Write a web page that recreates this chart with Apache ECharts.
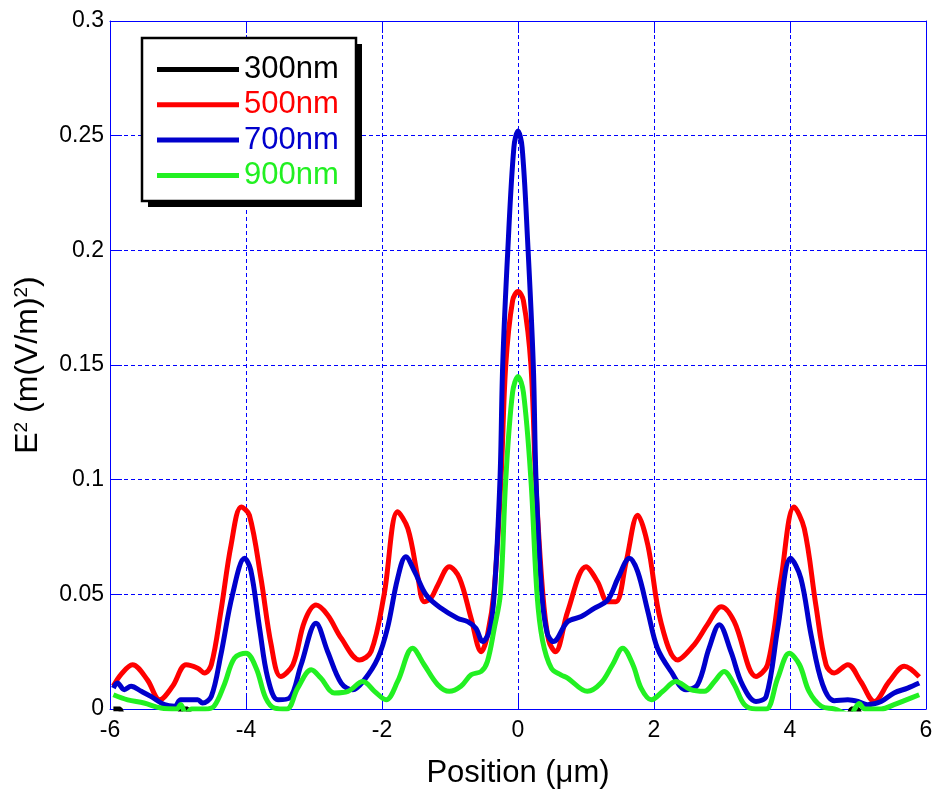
<!DOCTYPE html>
<html>
<head>
<meta charset="utf-8">
<title>E2 vs Position</title>
<script src="https://cdn.jsdelivr.net/npm/echarts@6/dist/echarts.min.js"></script>
<style>
  html, body { margin: 0; padding: 0; background: #fff; }
  #chart { width: 938px; height: 794px; }
</style>
</head>
<body>
<div id="chart"></div>
<script>
// wavelengths (legend)
const seriesNames = ['300nm', '500nm', '700nm', '900nm']
const seriesColors = ['#000000', '#ff0000', '#0000cc', '#22f022']

const xTicks = [-6, -4, -2, 0, 2, 4, 6]
const yTickLabels = ['0', '0.05', '0.1', '0.15', '0.2', '0.25', '0.3']

// 300nm - lies on / just under the axis, only shows in a few gaps
const x300 = [-5.95, -5.85, -5.8, -5.0, -4.95, -4.86, -4.8, 4.85, 4.9, 5.0, 5.05, 5.9]
const y300 = [0, 0, -0.004, -0.004, 0, 0, -0.004, -0.004, 0, 0, -0.004, -0.004]

// 500nm
const x500 = [-5.95, -5.84, -5.67, -5.45, -5.27, -5.08, -4.88, -4.71, -4.61, -4.51, -4.37, -4.22, -4.07, -3.95,
  -3.78, -3.63, -3.49, -3.31, -3.14, -2.97, -2.8, -2.6, -2.33, -2.16, -1.97, -1.77, -1.62, -1.47, -1.38, -1.28,
  -1.18, -1.01, -0.86, -0.69, -0.54, -0.45, -0.35, -0.25, -0.18, -0.08, 0, 0.08, 0.19, 0.26, 0.36, 0.45, 0.55,
  0.73, 1.0, 1.17, 1.32, 1.44, 1.59, 1.76, 1.91, 2.1, 2.35, 2.59, 2.79, 2.99, 3.18, 3.5, 3.67, 3.87, 4.06, 4.21,
  4.38, 4.53, 4.65, 4.85, 5.04, 5.24, 5.46, 5.68, 5.9]
const y500 = [0.010, 0.015, 0.0193, 0.0127, 0.004, 0.0099, 0.0193, 0.0178, 0.0157, 0.0193, 0.0425, 0.0714, 0.0881, 0.0845,
  0.057, 0.028, 0.0142, 0.0193, 0.0381, 0.0453, 0.041, 0.0309, 0.0214, 0.0251, 0.0497, 0.086, 0.0787, 0.057, 0.0468, 0.0483,
  0.054, 0.062, 0.057, 0.0396, 0.025, 0.032, 0.052, 0.1, 0.15, 0.178, 0.182, 0.178, 0.15, 0.1, 0.052, 0.03, 0.025,
  0.0425, 0.062, 0.0555, 0.0468, 0.0468, 0.0642, 0.0845, 0.0714, 0.0381, 0.0214, 0.028, 0.037, 0.0446, 0.0381, 0.0142, 0.0193, 0.057, 0.0881, 0.0787,
  0.0453, 0.0193, 0.0157, 0.0193, 0.012, 0.0033, 0.012, 0.0186, 0.014]

// 700nm
const x700 = [-5.95, -5.89, -5.79, -5.69, -5.54, -5.4, -5.2, -5.05, -4.96, -4.71, -4.64, -4.51, -4.37, -4.2, -4.02,
  -3.93, -3.8, -3.68, -3.53, -3.36, -3.19, -2.97, -2.8, -2.6, -2.43, -2.26, -2.06, -1.92, -1.77, -1.65, -1.52,
  -1.35, -1.13, -0.89, -0.74, -0.62, -0.52, -0.42, -0.35, -0.265, -0.225, -0.15, -0.06, 0, 0.06, 0.14, 0.225,
  0.265, 0.35, 0.43, 0.52, 0.73, 0.93, 1.12, 1.32, 1.47, 1.64, 1.76, 1.91, 2.05, 2.25, 2.47, 2.64, 2.81, 2.96,
  3.13, 3.3, 3.5, 3.65, 3.82, 4.01, 4.16, 4.31, 4.48, 4.65, 4.85, 5.0, 5.14, 5.34, 5.53, 5.73, 5.9]
const y700 = [0.0091, 0.0113, 0.0084, 0.0099, 0.0077, 0.0055, 0.0019, 0.0012, 0.004, 0.004, 0.0026, 0.0055, 0.0236, 0.0497, 0.0657,
  0.0606, 0.0352, 0.0135, 0.004, 0.0048, 0.0193, 0.0374, 0.0251, 0.0113, 0.0084, 0.0127, 0.0222, 0.0352, 0.057, 0.0664, 0.0599,
  0.0497, 0.0439, 0.0396, 0.0381, 0.0352, 0.0294, 0.034, 0.05, 0.1, 0.15, 0.2, 0.245, 0.252, 0.245, 0.205, 0.15,
  0.1, 0.05, 0.033, 0.0294, 0.0381, 0.0403, 0.0439, 0.0475, 0.057, 0.0657, 0.0599, 0.0425, 0.0265, 0.0164, 0.0084, 0.0106, 0.0265, 0.0367,
  0.0251, 0.0106, 0.0033, 0.0055, 0.0352, 0.0657, 0.057, 0.0323, 0.0106, 0.0036, 0.004, 0.0033, 0.0019, 0.0033, 0.007, 0.0091, 0.0113]

// 900nm
const x900 = [-5.95, -5.74, -5.5, -5.25, -5.02, -4.96, -4.88, -4.8, -4.6, -4.47, -4.32, -4.17, -4.0, -3.85, -3.71,
  -3.58, -3.4, -3.24, -3.04, -2.9, -2.7, -2.5, -2.28, -2.11, -1.94, -1.77, -1.55, -1.38, -1.18, -1.01, -0.84,
  -0.69, -0.54, -0.45, -0.35, -0.26, -0.18, -0.08, 0, 0.08, 0.19, 0.28, 0.36, 0.49, 0.63, 0.73, 1.02, 1.22,
  1.39, 1.54, 1.69, 1.81, 1.96, 2.13, 2.32, 2.54, 2.74, 2.89, 3.03, 3.18, 3.33, 3.5, 3.65, 3.82, 3.99, 4.14,
  4.28, 4.46, 4.65, 4.9, 4.95, 5.02, 5.1, 5.34, 5.53, 5.71, 5.9]
const y900 = [0.0062, 0.004, 0.0026, 0.0004, 0, 0.002, -0.0025, 0, 0, 0.0012, 0.0106, 0.0222, 0.0243, 0.0178, 0.0048,
  0.0004, 0, 0.0091, 0.0171, 0.0135, 0.007, 0.0077, 0.012, 0.0077, 0.004, 0.012, 0.0265, 0.0193, 0.0106, 0.0077, 0.0099,
  0.0149, 0.0164, 0.0207, 0.035, 0.05, 0.1, 0.138, 0.145, 0.138, 0.1, 0.05, 0.03, 0.0178, 0.0149, 0.0135, 0.0077, 0.0113,
  0.0193, 0.0265, 0.0193, 0.0091, 0.004, 0.0077, 0.012, 0.0084, 0.0077, 0.012, 0.0164, 0.0106, 0.0019, 0, 0, 0.0135, 0.0243, 0.0193,
  0.0077, 0.0012, 0, -0.0025, 0, 0.0024, 0, 0, 0.0019, 0.004, 0.0062]

const xs = [x300, x500, x700, x900]
const ys = [y300, y500, y700, y900]

const font = '"Liberation Sans", Arial, sans-serif'
const axisBlue = '#0000ff'

const chart = echarts.init(document.getElementById('chart'))

const baseX = {
  type: 'value',
  min: -6,
  max: 6,
  interval: 2,
  axisLine: { onZero: false, lineStyle: { color: axisBlue, width: 1 } },
  axisTick: { inside: true, length: 12, lineStyle: { color: axisBlue } },
  splitLine: { show: false }
}
const baseY = {
  type: 'value',
  min: 0,
  max: 0.3,
  interval: 0.05,
  axisLine: { show: true, onZero: false, lineStyle: { color: axisBlue, width: 1 } },
  axisTick: { show: true, inside: true, length: 12, lineStyle: { color: axisBlue } },
  splitLine: { show: false }
}

// legend frame with a hard drop shadow
const legendBox = { x: 142, y: 38, w: 214, h: 163 }

const option = {
  animation: false,
  backgroundColor: '#fff',
  textStyle: { fontFamily: font },
  grid: { left: 110, right: 12, top: 21, bottom: 83, containLabel: false },
  graphic: [
    {
      type: 'rect', z: 20, silent: true,
      shape: { x: legendBox.x + 6, y: legendBox.y + 6, width: legendBox.w, height: legendBox.h },
      style: { fill: '#000' }
    },
    {
      type: 'rect', z: 21, silent: true,
      shape: { x: legendBox.x, y: legendBox.y, width: legendBox.w, height: legendBox.h },
      style: { fill: '#fff', stroke: '#000', lineWidth: 2.5 }
    }
  ],
  legend: {
    z: 30,
    orient: 'vertical',
    left: legendBox.x,
    top: legendBox.y,
    padding: [16, 15, 14, 15],
    itemGap: 4.3,
    itemWidth: 82,
    itemHeight: 5,
    icon: 'rect',
    selectedMode: false,
    textStyle: { fontSize: 31, lineHeight: 30, fontFamily: font },
    data: seriesNames.map((n, i) => ({ name: n, textStyle: { color: seriesColors[i] } }))
  },
  xAxis: [
    {
      ...baseX,
      position: 'bottom',
      name: 'Position (μm)',
      nameLocation: 'middle',
      nameGap: 49,
      nameTextStyle: { color: '#000', fontSize: 31, fontFamily: font },
      axisLabel: {
        color: '#000', fontSize: 23, margin: 10, fontFamily: font,
        formatter: v => (xTicks.includes(v) ? String(v) : '')
      },
      splitLine: { show: true, lineStyle: { color: axisBlue, type: [4, 3], width: 1 } }
    },
    { ...baseX, position: 'top', axisLabel: { show: false } }
  ],
  yAxis: [
    {
      ...baseY,
      position: 'left',
      name: 'E{s|2} (m(V/m){s|2})',
      nameLocation: 'middle',
      nameRotate: 90,
      nameGap: 66,
      nameTextStyle: {
        color: '#000', fontSize: 32, lineHeight: 32, fontFamily: font,
        rich: { s: { fontSize: 19, lineHeight: 19, verticalAlign: 'top', color: '#000', fontFamily: font } }
      },
      axisLabel: {
        color: '#000', fontSize: 23, margin: 6, fontFamily: font,
        formatter: v => yTickLabels[Math.round(v / 0.05)] ?? ''
      },
      splitLine: { show: true, lineStyle: { color: axisBlue, type: [4, 3], width: 1 } }
    },
    { ...baseY, position: 'right', axisLabel: { show: false } }
  ],
  series: seriesNames.map((n, i) => ({
    name: n,
    type: 'line',
    xAxisIndex: 0,
    yAxisIndex: 0,
    data: xs[i].map((x, j) => [x, ys[i][j]]),
    showSymbol: false,
    symbol: 'none',
    smooth: i === 0 ? false : 0.35,
    clip: true,
    color: seriesColors[i],
    lineStyle: { color: seriesColors[i], width: 5 },
    z: 2 + i
  }))
}

chart.setOption(option)
</script>
</body>
</html>
